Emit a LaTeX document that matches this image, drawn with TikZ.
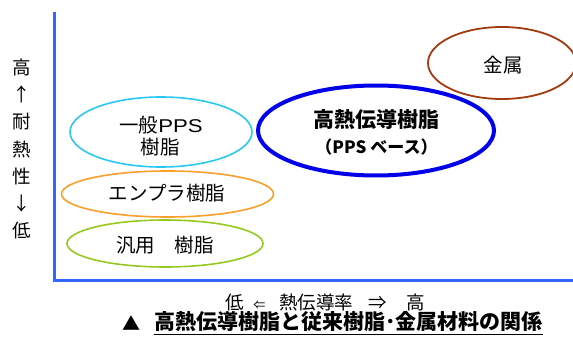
\documentclass[tikz,border=0pt]{standalone}
\usepackage{fontspec}
\newfontfamily\cjk{Noto Sans CJK JP}
\newfontfamily\lat{Liberation Sans}
\usetikzlibrary{shapes.geometric}
\definecolor{axisblue}{RGB}{51,102,255}
\definecolor{ccyan}{RGB}{40,200,240}
\definecolor{corange}{RGB}{250,160,40}
\definecolor{cgreen}{RGB}{150,200,30}
\definecolor{cbrown}{RGB}{160,60,15}
\definecolor{cblue}{RGB}{0,0,235}
\tikzset{
  oval/.style={draw, line width=1.6pt},
  lbl/.style={font=\cjk\fontsize{19.5}{22}\selectfont, inner sep=0pt, align=center},
  axis/.style={draw=axisblue, line width=3pt}
}
\begin{document}
\begin{tikzpicture}[x=1pt,y=-1pt]
\useasboundingbox (0,0) rectangle (573,342);
% axes
\coordinate (top) at (54.5,12);
\coordinate (org) at (54.5,280);
\coordinate (right) at (575,280);
\draw[axis] (top) -- (org.center) -- (right);
% ellipses
\draw[oval, ccyan] (161,132) ellipse [x radius=91, y radius=35];
\draw[oval, corange] (167.5,194) ellipse [x radius=106, y radius=23];
\draw[oval, cgreen] (165,243.5) ellipse [x radius=98, y radius=23.5];
\draw[line width=4pt, cblue] (376,130.5) ellipse [x radius=118, y radius=45];
\draw[oval, cbrown, line width=1.8pt] (502,63) ellipse [x radius=74, y radius=36];
% labels
\node[lbl] (ppsa) at (161,125) {一般{\lat\fontsize{18.5}{22}\selectfont\scalebox{1.2}[1]{PPS}}};
\node[lbl] (ppsb) at (160,147.5) {樹脂};
\node[lbl] (enpla) at (167,193) {エンプラ樹脂};
\node[lbl] (hanyo) at (165,245) {汎用　樹脂};
\node[lbl, font=\cjk\bfseries\fontsize{21}{22}\selectfont] (hi) at (376.5,120) {高熱伝導樹脂};
\node[lbl, font=\cjk\bfseries\fontsize{17}{20}\selectfont] (hib) at (376.5,147) {（PPS ベース）};
\node[lbl] (metal) at (503,65) {金属};
% y label
\node[lbl, font=\cjk\fontsize{18.5}{27.3}\selectfont] (ylab) at (22,149) {高\\↑\\耐\\熱\\性\\↓\\低};
% x label
\node[lbl, font=\cjk\fontsize{18.5}{20}\selectfont] (xlab) at (325.5,302.5)
  {低\hspace{9pt}{\fontsize{12}{14}\selectfont ⇐}\hspace{14pt}熱伝導率\hspace{15pt}⇒\hspace{20pt}高};
% caption
\node[lbl, font=\cjk\bfseries\fontsize{18}{20}\selectfont] (tri) at (131,323) {▲};
\node[lbl, font=\cjk\bfseries\fontsize{21}{22}\selectfont, anchor=west] (cap) at (154,322) {高熱伝導樹脂と従来樹脂･金属材料の関係};
\draw[line width=1.4pt] ([yshift=-2pt]cap.south west) -- ([yshift=-2pt]cap.south east);
\end{tikzpicture}
\end{document}
